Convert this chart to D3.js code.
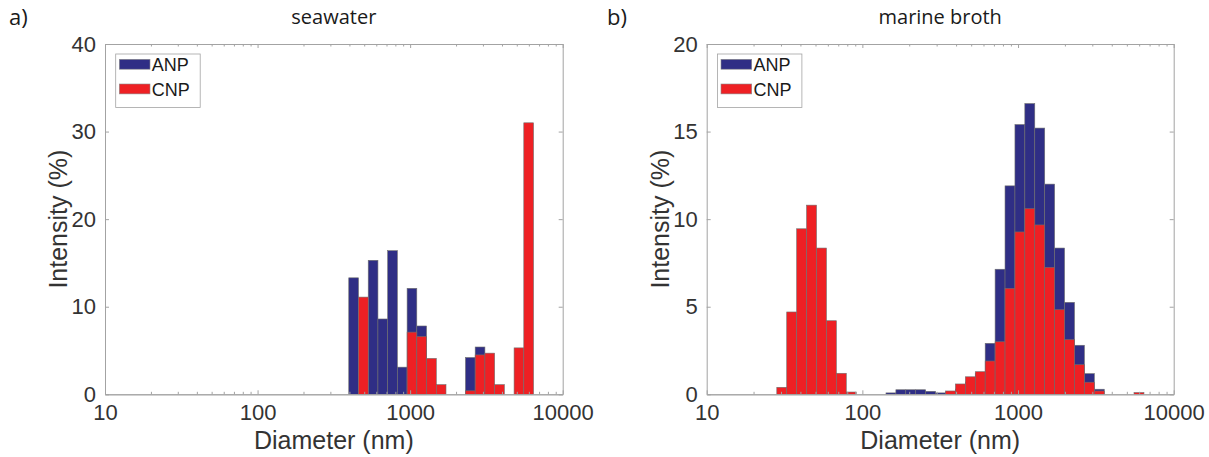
<!DOCTYPE html>
<html>
<head>
<meta charset="utf-8">
<script src="https://cdn.jsdelivr.net/npm/d3@7"></script>
<style>
  body { margin: 0; background: #fff; }
  text { font-family: "Liberation Sans", Arial, sans-serif; }
</style>
</head>
<body>
<svg id="chart" width="1209" height="457"></svg>
<script>
// size bin edges (nm)
var seaEdges = [396.1, 458.7, 531.2, 615.1, 712.4, 825.0, 955.4, 1106, 1281, 1484,
  1718, 1990, 2305, 2669, 3091, 3580, 4145, 4801, 5560, 6439];
var seaANP = [13.3, 0, 15.3, 8.6, 16.4, 3.1, 12.1, 7.8, 0, 0, 0, 0, 4.2, 5.4, 0, 0, 0, 0, 0];
var seaCNP = [0, 11.1, 0, 0, 0, 0, 7.1, 6.6, 4.1, 1.1, 0, 0, 0.4, 4.5, 4.7, 1.1, 0, 5.3, 31.0];

var brothEdges = [28.21, 32.67, 37.84, 43.82, 50.75, 58.77, 68.06, 78.82, 91.28, 105.7,
  122.4, 141.8, 164.2, 190.1, 220.2, 255.0, 295.3, 342.0, 396.1, 458.7,
  531.2, 615.1, 712.4, 825.0, 955.4, 1106, 1281, 1484, 1718, 1990,
  2305, 2669, 3091, 3580, 4145, 4801, 5560, 6439];
var brothANP = [0, 0, 0, 0, 0, 0, 0, 0, 0, 0,
  0, 0.08, 0.26, 0.26, 0.26, 0.17, 0.08, 0.1, 0.3, 0.7,
  1.2, 2.91, 7.14, 11.9, 15.4, 16.6, 15.2, 12.0, 8.35, 5.25,
  2.8, 1.18, 0.29, 0, 0, 0, 0];
var brothCNP = [0.4, 4.7, 9.45, 10.8, 8.35, 4.2, 1.2, 0.13, 0, 0,
  0, 0, 0, 0, 0, 0, 0, 0.19, 0.59, 1.0,
  1.29, 1.9, 3.0, 6.05, 9.27, 10.6, 9.67, 7.25, 4.83, 3.12,
  1.69, 0.69, 0.19, 0, 0, 0, 0.1];

var xTicks = [10, 100, 1000, 10000];
var seaYTicks = [0, 10, 20, 30, 40];
var brothYTicks = [0, 5, 10, 15, 20];
var seriesNames = ["ANP", "CNP"];
var colors = ["#2f2e85", "#ee2024"];

var svg = d3.select("#chart");
svg.append("rect").attr("width", 1209).attr("height", 457).attr("fill", "#fff");

var minorTicks = [];
[10, 100, 1000].forEach(function(d) {
  for (var k = 2; k <= 9; k++) minorTicks.push(d * k);
});

var drawPanel = function(p) {
  var x = d3.scaleLog().domain([10, 10000]).range([p.left, p.right]);
  var y = d3.scaleLinear().domain([0, p.yMax]).range([p.bottom, p.top]);
  var g = svg.append("g");

  // bars, ANP first then CNP on top
  [p.anp, p.cnp].forEach(function(vals, s) {
    var rows = vals.map(function(v, i) { return { v: v, a: p.edges[i], b: p.edges[i + 1] }; })
      .filter(function(d) { return d.v > 0; });
    g.selectAll(".bar" + s)
      .data(rows)
      .enter()
      .append("rect")
      .attr("x", function(d) { return x(d.a); })
      .attr("width", function(d) { return x(d.b) - x(d.a); })
      .attr("y", function(d) { return y(d.v); })
      .attr("height", function(d) { return y(0) - y(d.v); })
      .attr("fill", colors[s])
      .attr("stroke", "#6e6e6e")
      .attr("stroke-width", 0.6);
  });

  var axisColor = "#a3a3a3";

  g.append("g")
    .attr("transform", "translate(0," + p.bottom + ")")
    .call(d3.axisBottom(x).tickValues(xTicks).tickFormat(d3.format("d"))
      .tickSizeInner(-4).tickSizeOuter(0).tickPadding(10));
  g.append("g")
    .attr("transform", "translate(0," + p.bottom + ")")
    .call(d3.axisBottom(x).tickValues(minorTicks).tickFormat("")
      .tickSizeInner(-2.5).tickSizeOuter(0));
  g.append("g")
    .attr("transform", "translate(0," + p.top + ")")
    .call(d3.axisTop(x).tickValues(xTicks).tickFormat("")
      .tickSizeInner(-4).tickSizeOuter(0));
  g.append("g")
    .attr("transform", "translate(0," + p.top + ")")
    .call(d3.axisTop(x).tickValues(minorTicks).tickFormat("")
      .tickSizeInner(-2.5).tickSizeOuter(0));
  g.append("g")
    .attr("transform", "translate(" + p.left + ",0)")
    .call(d3.axisLeft(y).tickValues(p.yTicks)
      .tickSizeInner(-4).tickSizeOuter(0).tickPadding(9));
  g.append("g")
    .attr("transform", "translate(" + p.right + ",0)")
    .call(d3.axisRight(y).tickValues(p.yTicks).tickFormat("")
      .tickSizeInner(-4).tickSizeOuter(0));

  g.selectAll(".domain, .tick line").attr("stroke", axisColor);
  g.selectAll(".tick text").attr("fill", "#333").style("font-size", "22px");

  // titles and labels
  g.append("text")
    .attr("x", (p.left + p.right) / 2)
    .attr("y", 24)
    .attr("text-anchor", "middle")
    .attr("fill", "#1a1a1a")
    .style("font-family", "'Open Sans', sans-serif")
    .style("font-size", "20px")
    .text(p.title);
  g.append("text")
    .attr("x", p.tagX)
    .attr("y", 25)
    .attr("fill", "#1a1a1a")
    .style("font-family", "'Open Sans', sans-serif")
    .style("font-size", "22px")
    .text(p.tag);
  g.append("text")
    .attr("x", (p.left + p.right) / 2)
    .attr("y", 449)
    .attr("text-anchor", "middle")
    .attr("fill", "#333")
    .style("font-size", "25px")
    .text("Diameter (nm)");
  g.append("text")
    .attr("transform", "translate(" + (p.left - 38) + "," + ((p.top + p.bottom) / 2) + ") rotate(-90)")
    .attr("text-anchor", "middle")
    .attr("fill", "#333")
    .style("font-size", "25px")
    .text("Intensity (%)");

  // legend
  var lg = g.append("g").attr("transform", "translate(" + (p.left + 10.7) + "," + (p.top + 10) + ")");
  lg.append("rect").attr("width", 84.5).attr("height", 53.5)
    .attr("fill", "#fff").attr("stroke", axisColor).attr("stroke-width", 0.8);
  seriesNames.forEach(function(name, i) {
    lg.append("rect")
      .attr("x", 3.6).attr("y", 5.3 + i * 24.7)
      .attr("width", 30.7).attr("height", 9.9)
      .attr("fill", colors[i]).attr("stroke", "#8a8a8a").attr("stroke-width", 0.6);
    lg.append("text")
      .attr("x", 36).attr("y", 17 + i * 24.7)
      .attr("fill", "#1a1a1a")
      .style("font-size", "18px")
      .text(name);
  });
};

drawPanel({ left: 105, right: 562.7, top: 44, bottom: 394.3, yMax: 40, yTicks: seaYTicks,
  edges: seaEdges, anp: seaANP, cnp: seaCNP, title: "seawater", tag: "a)", tagX: 9 });
drawPanel({ left: 706.7, right: 1173.7, top: 44, bottom: 394.3, yMax: 20, yTicks: brothYTicks,
  edges: brothEdges, anp: brothANP, cnp: brothCNP, title: "marine broth", tag: "b)", tagX: 607 });
</script>
</body>
</html>
